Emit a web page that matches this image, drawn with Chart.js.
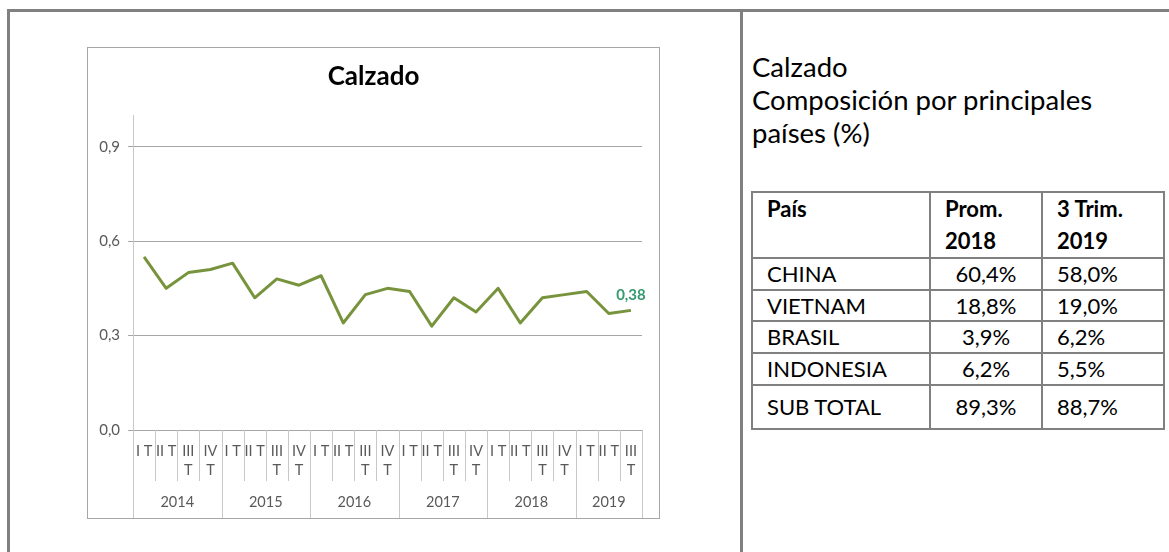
<!DOCTYPE html>
<html>
<head>
<meta charset="utf-8">
<script src="https://cdn.jsdelivr.net/npm/chart.js@4.4.1/dist/chart.umd.min.js"></script>
<style>
  body { margin: 0; background: #fff; font-family: Lato, "Open Sans", sans-serif; }
  .frame { position: absolute; left: 7px; top: 9px; width: 1200px; height: 600px;
           border-top: 3px solid #808080; border-left: 3px solid #808080; }
  .divider { position: absolute; left: 740px; top: 9px; width: 3px; height: 600px; background: #808080; }
  .chartbox { position: absolute; left: 87px; top: 47px; width: 571px; height: 470px;
              border: 1px solid #a6a6a6; }
  .notes { position: absolute; left: 752px; top: 50px; font-size: 27.5px; line-height: 33px; color: #000; }
  table { position: absolute; left: 751px; top: 191px; border-collapse: collapse;
          table-layout: fixed; font-size: 22px; color: #000; }
  td, th { border: 2px solid #808080; padding: 0 14px; }
  th { text-align: left; vertical-align: top; line-height: 32px; height: 60px; }
  td { height: 29.7px; vertical-align: middle; line-height: 24px; }
  td.c { text-align: center; padding: 0; }
  tr.last td { height: 42px; }
</style>
</head>
<body>
<div class="frame"></div>
<div class="divider"></div>
<div class="chartbox"><canvas id="chart" width="571" height="470"></canvas></div>
<div class="notes">Calzado<br>Composición por principales<br>países (%)</div>
<table id="tbl">
  <colgroup><col style="width:178px"><col style="width:112px"><col style="width:122px"></colgroup>
</table>
<script>
// quarter labels (already wrapped like the original) and the year of each quarter
const quarters = [
  ["I T"], ["II T"], ["III", "T"], ["IV", "T"],
  ["I T"], ["II T"], ["III", "T"], ["IV", "T"],
  ["I T"], ["II T"], ["III", "T"], ["IV", "T"],
  ["I T"], ["II T"], ["III", "T"], ["IV", "T"],
  ["I T"], ["II T"], ["III", "T"], ["IV", "T"],
  ["I T"], ["II T"], ["III", "T"]
];
const years = [
  "2014", "2014", "2014", "2014",
  "2015", "2015", "2015", "2015",
  "2016", "2016", "2016", "2016",
  "2017", "2017", "2017", "2017",
  "2018", "2018", "2018", "2018",
  "2019", "2019", "2019"
];
const values = [
  0.55, 0.45, 0.50, 0.51,
  0.53, 0.42, 0.48, 0.46,
  0.49, 0.34, 0.43, 0.45,
  0.44, 0.33, 0.42, 0.375,
  0.45, 0.34, 0.42, 0.43,
  0.44, 0.37, 0.38
];
const yTicks = [0, 0.3, 0.6, 0.9];

// table
const countries = ["CHINA", "VIETNAM", "BRASIL", "INDONESIA", "SUB TOTAL"];
const prom2018 = [60.4, 18.8, 3.9, 6.2, 89.3];
const trim3_2019 = [58.0, 19.0, 6.2, 5.5, 88.7];

const fmt = (v, d) => v.toFixed(d).replace(".", ",");

const tbl = document.getElementById("tbl");
tbl.insertAdjacentHTML("beforeend",
  "<tr><th>País</th><th>Prom.<br>2018</th><th>3 Trim.<br>2019</th></tr>");
countries.forEach((c, i) => {
  const cls = i === countries.length - 1 ? ' class="last"' : "";
  tbl.insertAdjacentHTML("beforeend",
    `<tr${cls}><td>${c}</td><td class="c">${fmt(prom2018[i], 1)}%</td><td>${fmt(trim3_2019[i], 1)}%</td></tr>`);
});

const LABEL_COLOR = "#595959";
const SEP_COLOR = "#c8c8c8";

// two level category axis: quarters over years with separator lines
const groupedAxis = {
  id: "groupedAxis",
  afterDraw(chart) {
    const { ctx, chartArea, scales: { x } } = chart;
    const step = x.getPixelForValue(1) - x.getPixelForValue(0);
    const top = chartArea.bottom;
    ctx.save();
    ctx.strokeStyle = SEP_COLOR;
    ctx.lineWidth = 1;
    ctx.fillStyle = LABEL_COLOR;
    ctx.font = "14.5px Lato";
    ctx.textAlign = "center";
    ctx.textBaseline = "middle";

    quarters.forEach((q, i) => {
      const cx = x.getPixelForValue(i);
      const left = Math.round(cx - step / 2) + 0.5;
      const yearStart = i === 0 || years[i] !== years[i - 1];
      ctx.beginPath();
      ctx.moveTo(left, top);
      ctx.lineTo(left, yearStart ? chart.height : top + 51);
      ctx.stroke();
      q.forEach((line, k) => ctx.fillText(line, cx, top + 21.5 + k * 18.5));
    });
    const right = Math.round(x.getPixelForValue(quarters.length - 1) + step / 2) + 0.5;
    ctx.beginPath();
    ctx.moveTo(right, top);
    ctx.lineTo(right, chart.height);
    ctx.stroke();

    // year labels centred under their quarters
    let first = 0;
    years.forEach((yr, i) => {
      if (i === years.length - 1 || years[i + 1] !== yr) {
        const cx = (x.getPixelForValue(first) + x.getPixelForValue(i)) / 2;
        ctx.fillText(yr, cx, top + 72);
        first = i + 1;
      }
    });
    ctx.restore();
  }
};

// value label on the last point
const lastLabel = {
  id: "lastLabel",
  afterDatasetsDraw(chart) {
    const { ctx } = chart;
    const pts = chart.getDatasetMeta(0).data;
    const p = pts[pts.length - 1];
    ctx.save();
    ctx.fillStyle = "#359a6e";
    ctx.font = "bold 15px Lato";
    ctx.textAlign = "center";
    ctx.textBaseline = "middle";
    ctx.fillText(fmt(values[values.length - 1], 2), p.x, p.y - 15);
    ctx.restore();
  }
};

new Chart(document.getElementById("chart"), {
  type: "line",
  data: {
    labels: quarters,
    datasets: [{
      data: values,
      borderColor: "#77933C",
      borderWidth: 3,
      borderJoinStyle: "round",
      pointRadius: 0,
      tension: 0,
      fill: false
    }]
  },
  options: {
    responsive: false,
    animation: false,
    layout: { padding: 0 },
    plugins: {
      legend: { display: false },
      tooltip: { enabled: false },
      title: {
        display: true,
        text: "Calzado",
        color: "#000",
        font: { family: "Lato", size: 26, weight: "bold" },
        padding: { top: 13, bottom: 23 }
      }
    },
    scales: {
      x: {
        offset: true,
        ticks: { display: false },
        grid: { display: false },
        border: { display: true, color: "#a6a6a6" },
        afterFit: s => { s.height = 88; }
      },
      y: {
        min: 0,
        max: 1,
        afterBuildTicks: s => { s.ticks = yTicks.map(v => ({ value: v })); },
        afterFit: s => { s.width = 45; },
        border: { color: SEP_COLOR },
        grid: { color: "#a6a6a6", tickLength: 5 },
        ticks: {
          padding: 8,
          color: LABEL_COLOR,
          font: { family: "Lato", size: 15 },
          callback: v => fmt(v, 1)
        }
      },
      // empty right margin so the title stays centred on the whole box
      spacer: {
        type: "linear",
        position: "right",
        display: true,
        grid: { display: false },
        ticks: { display: false },
        border: { display: false },
        afterFit: s => { s.width = 17; }
      }
    }
  },
  plugins: [groupedAxis, lastLabel]
});
</script>
</body>
</html>
